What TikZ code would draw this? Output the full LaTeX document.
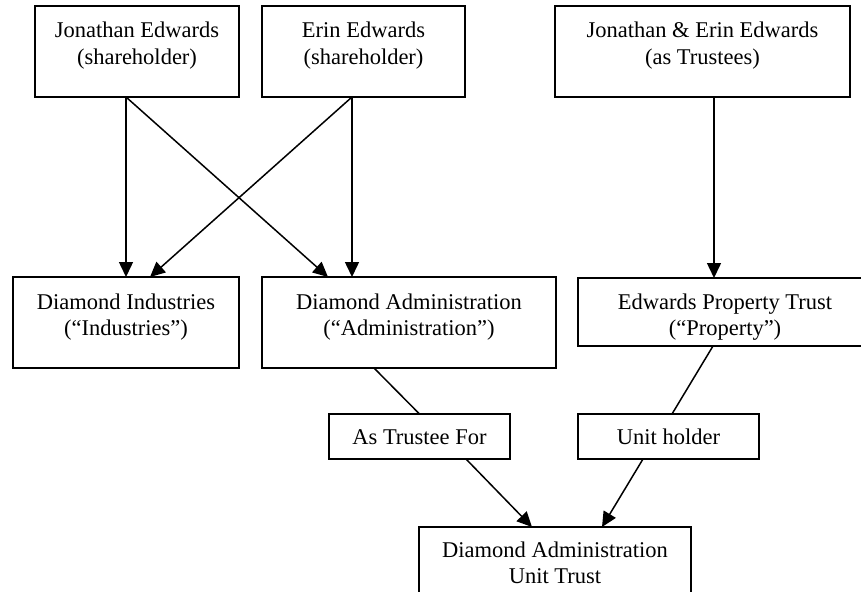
\documentclass[tikz,border=0pt]{standalone}
\usepackage{fontspec}
\setmainfont{Liberation Serif}
\usetikzlibrary{arrows.meta, calc}

% box text: width, height, first baseline, lines
\newcommand{\boxtext}[4]{\parbox[c][#2][t]{#1}{\centering\rule{0pt}{#3}#4}}

\tikzset{
  ebox/.style={draw, line width=1.5pt, inner sep=0pt, outer sep=0pt, anchor=north west,
    font=\fontsize{22.5}{26.5}\selectfont},
  link/.style={line width=1.5pt},
  arr/.style={link, -{Triangle[length=15pt, width=14pt]}}
}

\begin{document}
\begin{tikzpicture}[x=1pt, y=-1pt]
  \useasboundingbox (0,0) rectangle (861,591);
  \clip (0,0) rectangle (861,591);

  % owners
  \node[ebox] (jon) at (35,6) {\boxtext{204pt}{91pt}{32pt}{Jonathan Edwards\\(shareholder)}};
  \node[ebox] (erin) at (262,6) {\boxtext{203pt}{91pt}{32pt}{Erin Edwards\\(shareholder)}};
  \node[ebox] (trustees) at (555,6) {\boxtext{295pt}{91pt}{32pt}{Jonathan \& Erin Edwards\\(as Trustees)}};

  % entities
  \node[ebox] (ind) at (13,277) {\boxtext{226pt}{91pt}{32pt}{Diamond Industries\\(“Industries”)}};
  \node[ebox] (admin) at (262,277) {\boxtext{294pt}{91pt}{32pt}{Diamond Administration\\(“Administration”)}};
  \node[ebox] (prop) at (578,278) {\boxtext{294pt}{68pt}{31pt}{Edwards Property Trust\\(“Property”)}};

  % roles
  \node[ebox] (astr) at (329,414) {\boxtext{181pt}{45pt}{30pt}{As Trustee For}};
  \node[ebox] (uh) at (578,414) {\boxtext{181pt}{45pt}{30pt}{Unit holder}};

  \node[ebox] (ut) at (419,527) {\boxtext{272pt}{80pt}{30pt}{Diamond Administration\\Unit Trust}};

  \coordinate (jonout) at ([xshift=-11pt]jon.south);
  \coordinate (erinout) at ([xshift=-11.5pt]erin.south);
  \coordinate (trout) at ([xshift=11.5pt]trustees.south);

  \draw[arr] (jonout) -- (jonout |- ind.north);
  \draw[arr] (jonout) -- ([xshift=-81pt]admin.north);
  \draw[arr] (erinout) -- ([xshift=24pt]ind.north);
  \draw[arr] (erinout) -- (erinout |- admin.north);
  \draw[arr] (trout) -- (trout |- prop.north);

  \draw[link] ([xshift=-35pt]admin.south) -- (astr.north);
  \draw[link] ([xshift=-12pt]prop.south) -- ([xshift=3.5pt]uh.north);
  \draw[arr] ([xshift=46.5pt]astr.south) -- ([xshift=-23pt]ut.north);
  \draw[arr] ([xshift=-25.5pt]uh.south) -- ([xshift=47pt]ut.north);
\end{tikzpicture}
\end{document}
